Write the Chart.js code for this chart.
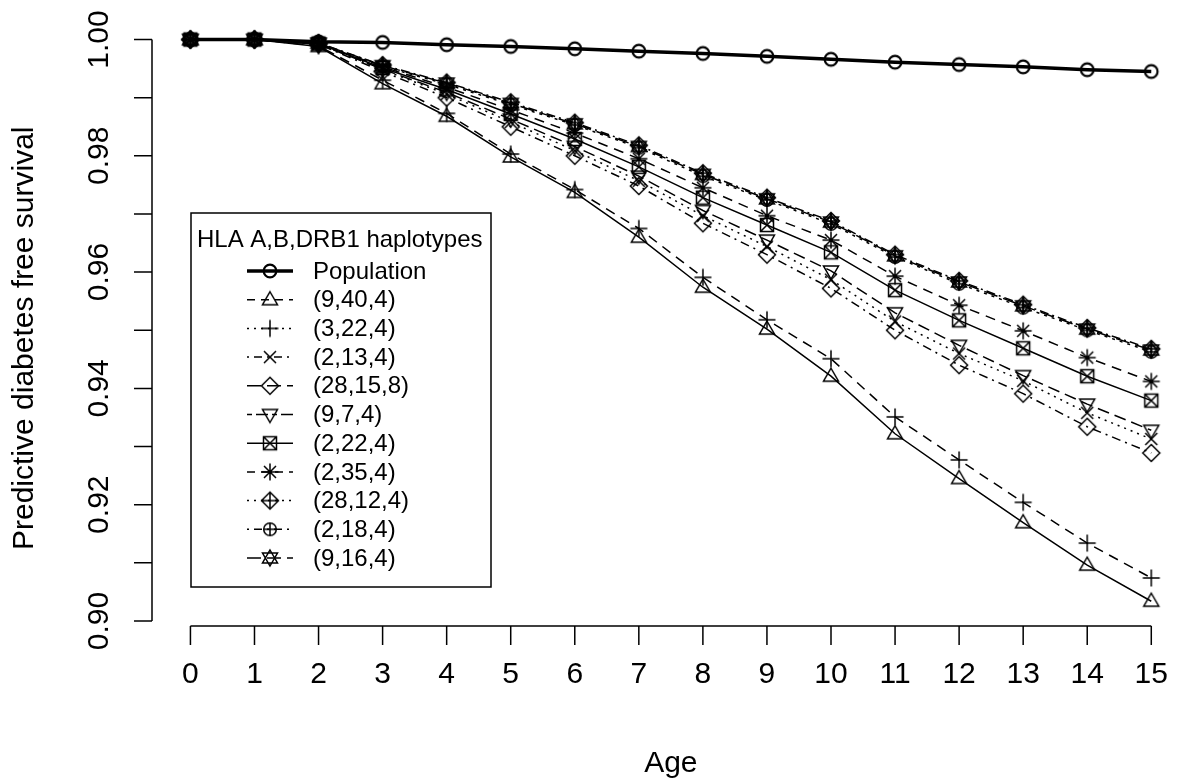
<!DOCTYPE html>
<html>
<head>
<meta charset="utf-8">
<script src="https://cdn.jsdelivr.net/npm/chart.js@4.4.1/dist/chart.umd.min.js"></script>
<style>
html, body { margin: 0; padding: 0; background: #fff; }
#wrap { width: 1180px; height: 783px; }
</style>
</head>
<body>
<div id="wrap"><canvas id="survChart" width="1180" height="783"></canvas></div>
<script>
// =============================
// DATA
// =============================
const ages = [0,1,2,3,4,5,6,7,8,9,10,11,12,13,14,15];
const yTickLabels = [0.90, 0.92, 0.94, 0.96, 0.98, 1.00];
const yTickMarks = [0.90, 0.91, 0.92, 0.93, 0.94, 0.95, 0.96, 0.97, 0.98, 0.99, 1.00];
const legendTitle = 'HLA A,B,DRB1 haplotypes';
const seriesNames = ['Population','(9,40,4)','(3,22,4)','(2,13,4)','(28,15,8)','(9,7,4)',
                     '(2,22,4)','(2,35,4)','(28,12,4)','(2,18,4)','(9,16,4)'];

const population = [1, 1, 0.9996, 0.9995, 0.9991, 0.9988, 0.9984, 0.9980, 0.9976, 0.9971, 0.9966, 0.9961, 0.9957, 0.9953, 0.9948, 0.9945];
const hap_9_40_4  = [1, 1, 0.9988, 0.9924, 0.9868, 0.9798, 0.9737, 0.9660, 0.9574, 0.9502, 0.9421, 0.9322, 0.9245, 0.9169, 0.9096, 0.9034];
const hap_3_22_4  = [1, 1, 0.9989, 0.9930, 0.9873, 0.9803, 0.9742, 0.9675, 0.9591, 0.9518, 0.9451, 0.9351, 0.9277, 0.9204, 0.9134, 0.9074];
const hap_2_13_4  = [1, 1, 0.9992, 0.9948, 0.9906, 0.9858, 0.9809, 0.9757, 0.9697, 0.9644, 0.9587, 0.9515, 0.9460, 0.9413, 0.9358, 0.9313];
const hap_28_15_8 = [1, 1, 0.9992, 0.9945, 0.9900, 0.9850, 0.9800, 0.9748, 0.9684, 0.9630, 0.9572, 0.9500, 0.9440, 0.9391, 0.9334, 0.9289];
const hap_9_7_4   = [1, 1, 0.9992, 0.9949, 0.9909, 0.9863, 0.9816, 0.9765, 0.9706, 0.9655, 0.9602, 0.9530, 0.9474, 0.9422, 0.9373, 0.9328];
const hap_2_22_4  = [1, 1, 0.9993, 0.9951, 0.9914, 0.9872, 0.9829, 0.9781, 0.9728, 0.9681, 0.9634, 0.9569, 0.9517, 0.9469, 0.9421, 0.9379];
const hap_2_35_4  = [1, 1, 0.9993, 0.9953, 0.9918, 0.9879, 0.9839, 0.9795, 0.9745, 0.9697, 0.9655, 0.9593, 0.9543, 0.9499, 0.9453, 0.9412];
const hap_28_12_4 = [1, 1, 0.9994, 0.9956, 0.9926, 0.9892, 0.9857, 0.9818, 0.9770, 0.9728, 0.9688, 0.9630, 0.9585, 0.9544, 0.9504, 0.9468];
const hap_2_18_4  = [1, 1, 0.9993, 0.9954, 0.9923, 0.9888, 0.9853, 0.9814, 0.9765, 0.9724, 0.9683, 0.9626, 0.9580, 0.9539, 0.9500, 0.9463];
const hap_9_16_4  = [1, 1, 0.9994, 0.9955, 0.9925, 0.9890, 0.9855, 0.9816, 0.9768, 0.9726, 0.9686, 0.9628, 0.9583, 0.9542, 0.9502, 0.9466];

const seriesValues = [population, hap_9_40_4, hap_3_22_4, hap_2_13_4, hap_28_15_8, hap_9_7_4,
                      hap_2_22_4, hap_2_35_4, hap_28_12_4, hap_2_18_4, hap_9_16_4];

// =============================
// MARKERS (R style open symbols)
// =============================
function makeMarker(kind, lw) {
    const c = document.createElement('canvas');
    c.width = 26; c.height = 26;
    const g = c.getContext('2d');
    g.translate(13, 13);
    g.strokeStyle = '#000';
    g.lineWidth = lw || 1.5;
    g.beginPath();
    const tri = (s) => { g.moveTo(0, -8 * s); g.lineTo(7.5, 5 * s); g.lineTo(-7.5, 5 * s); g.closePath(); };
    const plus = (r) => { g.moveTo(-r, 0); g.lineTo(r, 0); g.moveTo(0, -r); g.lineTo(0, r); };
    const cross = (r) => { g.moveTo(-r, -r); g.lineTo(r, r); g.moveTo(r, -r); g.lineTo(-r, r); };
    const diamond = (r) => { g.moveTo(0, -r); g.lineTo(r, 0); g.lineTo(0, r); g.lineTo(-r, 0); g.closePath(); };
    switch (kind) {
        case 'circle':  g.arc(0, 0, 6.3, 0, Math.PI * 2); break;
        case 'tri':     tri(1); break;
        case 'downtri': tri(-1); break;
        case 'plus':    plus(8.5); break;
        case 'x':       cross(6); break;
        case 'diamond': diamond(8.5); break;
        case 'sqx':     g.rect(-6.5, -6.5, 13, 13); cross(6.5); break;
        case 'ast':     plus(8.5); cross(6); break;
        case 'diaplus': diamond(8.5); plus(8.5); break;
        case 'cirplus': g.arc(0, 0, 6.3, 0, Math.PI * 2); plus(6.3); break;
        case 'david':   tri(1); g.moveTo(0, 8); g.lineTo(7.5, -5); g.lineTo(-7.5, -5); g.closePath(); break;
    }
    g.stroke();
    return c;
}

const markerKinds = ['circle','tri','plus','x','diamond','downtri','sqx','ast','diaplus','cirplus','david'];
// dash patterns seen on the plotted lines, and the ones shown in the legend key
const plotDash = [[], [], [10,7], [2,5], [2,5,9,5], [12,6], [], [10,7], [2,4,9,4], [3,5], [14,6]];
const keyDash  = [[], [8,6], [2,5], [2,5,8,5], [14,6], [5,4,12,4], [], [8,6], [2,5], [2,5,8,5], [14,6]];

const markers = markerKinds.map((k, i) => makeMarker(k, i === 0 ? 2.2 : 1.5));

const datasets = seriesNames.map((name, i) => ({
    label: name,
    data: ages.map((a, j) => ({ x: a, y: seriesValues[i][j] })),
    borderColor: '#000',
    backgroundColor: 'rgba(0,0,0,0)',
    borderWidth: i === 0 ? 3.5 : 1.5,
    borderDash: plotDash[i],
    pointStyle: markers[i],
    pointRadius: 6,
    pointHoverRadius: 6,
    tension: 0,
    fill: false
}));

// =============================
// R-STYLE AXES + LEGEND
// =============================
const AXIS_FONT = '30px "Liberation Sans", Arial, sans-serif';
const KEY_FONT = '24px "Liberation Sans", Arial, sans-serif';

const rAxes = {
    id: 'rAxes',
    afterDraw(chart) {
        const { ctx, chartArea, scales: { x, y } } = chart;
        ctx.save();
        ctx.strokeStyle = '#000';
        ctx.fillStyle = '#000';
        ctx.lineWidth = 1.5;
        ctx.setLineDash([]);
        ctx.font = AXIS_FONT;

        // y axis
        const ax = chartArea.left;
        ctx.beginPath();
        ctx.moveTo(ax, y.getPixelForValue(yTickMarks[0]));
        ctx.lineTo(ax, y.getPixelForValue(yTickMarks[yTickMarks.length - 1]));
        yTickMarks.forEach(v => {
            const py = y.getPixelForValue(v);
            ctx.moveTo(ax, py); ctx.lineTo(ax - 18, py);
        });
        ctx.stroke();
        ctx.textAlign = 'center';
        ctx.textBaseline = 'middle';
        yTickLabels.forEach(v => {
            ctx.save();
            ctx.translate(ax - 52, y.getPixelForValue(v));
            ctx.rotate(-Math.PI / 2);
            ctx.fillText(v.toFixed(2), 0, 0);
            ctx.restore();
        });

        // x axis
        const by = chartArea.bottom;
        ctx.beginPath();
        ctx.moveTo(x.getPixelForValue(ages[0]), by);
        ctx.lineTo(x.getPixelForValue(ages[ages.length - 1]), by);
        ages.forEach(a => {
            const px = x.getPixelForValue(a);
            ctx.moveTo(px, by); ctx.lineTo(px, by + 19);
        });
        ctx.stroke();
        ages.forEach(a => ctx.fillText(String(a), x.getPixelForValue(a), by + 49));

        // axis titles
        const midX = (x.getPixelForValue(ages[0]) + x.getPixelForValue(ages[ages.length - 1])) / 2;
        ctx.fillText('Age', midX, 764);
        ctx.save();
        ctx.translate(25, (y.getPixelForValue(0.90) + y.getPixelForValue(1.00)) / 2 + 8);
        ctx.rotate(-Math.PI / 2);
        ctx.fillText('Predictive diabetes free survival', 0, 0);
        ctx.restore();

        // legend box
        ctx.font = KEY_FONT;
        const lx = 191, ly = 213, lw = 300, lh = 374;
        ctx.strokeRect(lx, ly, lw, lh);
        ctx.textAlign = 'left';
        ctx.fillText(legendTitle, lx + 6, ly + 27);
        seriesNames.forEach((name, i) => {
            const ry = ly + 58 + i * 28.7;
            ctx.save();
            ctx.lineWidth = i === 0 ? 3.5 : 1.5;
            ctx.setLineDash(keyDash[i]);
            ctx.beginPath();
            ctx.moveTo(lx + 56, ry); ctx.lineTo(lx + 102, ry);
            ctx.stroke();
            ctx.restore();
            ctx.drawImage(markers[i], lx + 79 - 13, ry - 13);
            ctx.fillText(name, lx + 122, ry + 1);
        });
        ctx.restore();
    }
};

// =============================
// SURVIVAL CHART
// =============================
const ctx1 = document.getElementById('survChart');
if (ctx1) {
    new Chart(ctx1, {
        type: 'line',
        data: { datasets: datasets },
        options: {
            responsive: false,
            animation: false,
            devicePixelRatio: 1,
            layout: { padding: { left: 152, right: 3, top: 17, bottom: 157 } },
            plugins: { legend: { display: false }, tooltip: { enabled: false } },
            scales: {
                x: { type: 'linear', min: -0.6, max: 15.3, display: false },
                y: { type: 'linear', min: 0.89914, max: 1.00387, display: false }
            }
        },
        plugins: [rAxes]
    });
}
</script>
</body>
</html>
